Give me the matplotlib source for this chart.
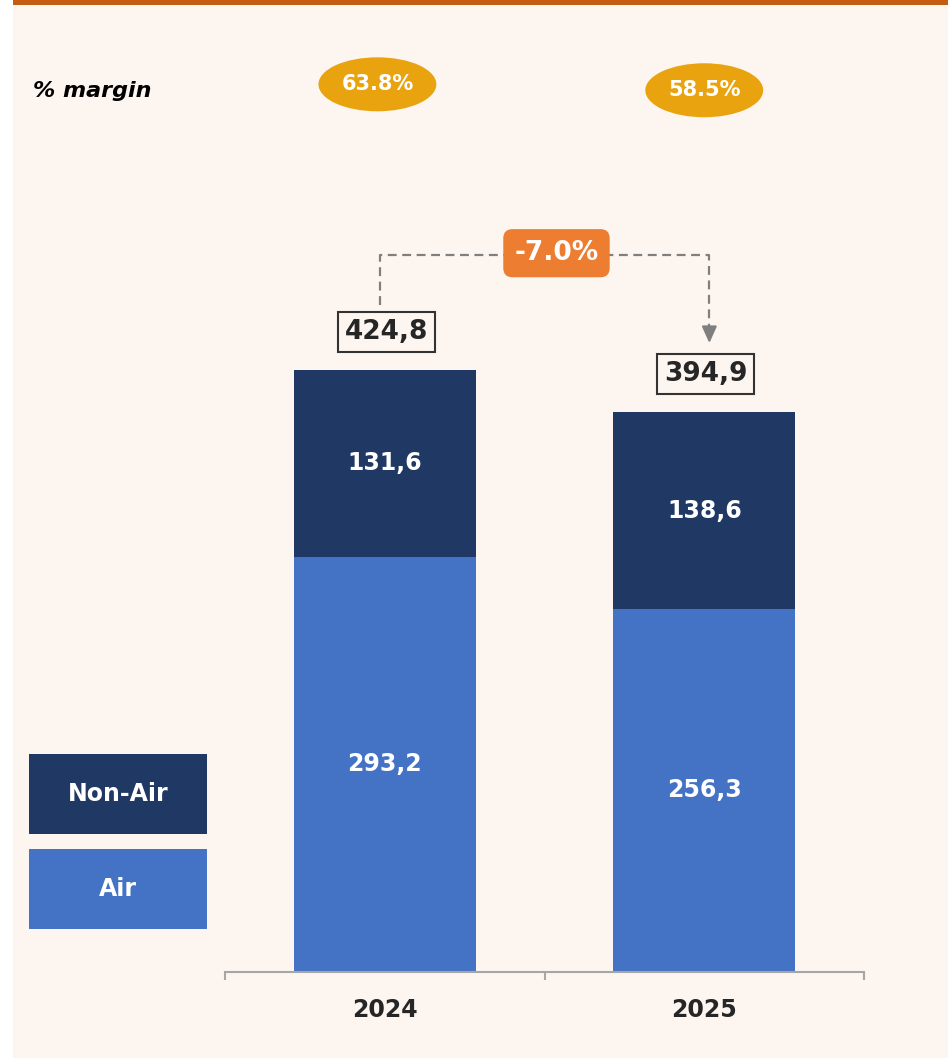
import matplotlib
matplotlib.use("Agg")
import matplotlib.pyplot as plt
from matplotlib.patches import Rectangle, Ellipse

# data
years = ["2024", "2025"]
air = [293.2, 256.3]
non_air = [131.6, 138.6]
totals = [424.8, 394.9]
margins = ["63.8%", "58.5%"]
change_label = "-7.0%"
legend_labels = ["Non-Air", "Air"]

# colours
bg = "#FDF5F0"
navy = "#203864"
blue = "#4472C4"
gold = "#E9A30F"
orange = "#ED7D31"
dark = "#262626"

W, H = 948, 1058
fig = plt.figure(figsize=(W / 100, H / 100), dpi=100)
fig.patch.set_facecolor("white")

# peach panel and orange top rule (behind the axes)
fig.patches.append(Rectangle((13 / W, 0), 1 - 13 / W, 1 - 5 / H, transform=fig.transFigure,
                             facecolor=bg, edgecolor="none", zorder=-2))
fig.patches.append(Rectangle((13 / W, 1 - 5 / H), 1 - 13 / W, 5 / H, transform=fig.transFigure,
                             facecolor="#C55A11", edgecolor="none", zorder=-2))

ax = fig.add_axes([225 / W, (H - 972) / H, (864 - 225) / W, 972 / H])
ax.set_facecolor("none")

x = range(len(years))
bar_w = 0.57
ax.bar(x, air, width=bar_w, color=blue, zorder=2)
ax.bar(x, non_air, bottom=air, width=bar_w, color=navy, zorder=2)

ax.set_xlim(-0.5, 1.5)
ax.set_ylim(0, 686)

for s in ["top", "right", "left"]:
    ax.spines[s].set_visible(False)
ax.spines["bottom"].set_color("#A6A6A6")
ax.spines["bottom"].set_linewidth(1.5)
ax.set_yticks([])
ax.set_xticks([-0.5, 0.5, 1.5])
ax.set_xticklabels([])
ax.tick_params(axis="x", which="major", length=6, width=1.5, color="#A6A6A6")
ax.set_xticks(list(x), minor=True)
ax.set_xticklabels(years, minor=True, fontsize=17, fontweight="bold", color=dark)
ax.tick_params(axis="x", which="minor", length=0, pad=19)

# values inside the segments
for i in x:
    ax.text(i, air[i] / 2, f"{air[i]:.1f}".replace(".", ","), ha="center", va="center",
            color="white", fontsize=17, fontweight="bold", zorder=3)
    ax.text(i, air[i] + non_air[i] / 2, f"{non_air[i]:.1f}".replace(".", ","), ha="center",
            va="center", color="white", fontsize=17, fontweight="bold", zorder=3)
    # boxed totals
    ax.annotate(f"{totals[i]:.1f}".replace(".", ","), xy=(i, totals[i]), xytext=(1, 27.5),
                textcoords="offset points", ha="center", va="center", fontsize=19,
                fontweight="bold", color=dark,
                bbox=dict(boxstyle="square,pad=0.26", facecolor=bg, edgecolor="#333333", lw=1.5))

# margin ellipses
ell_y = [626.5, 622.3]
ell_dx = [-0.023, 0.0]
for i in x:
    ax.add_patch(Ellipse((i + ell_dx[i], ell_y[i]), 0.369, 38.1, facecolor=gold,
                         edgecolor="none", clip_on=False, zorder=3))
    ax.text(i + ell_dx[i], ell_y[i], margins[i], ha="center", va="center", color="white",
            fontsize=15, fontweight="bold", zorder=4)

ax.text(-0.5 - 192 / 320, 622, "% margin", ha="left", va="center", fontsize=16,
        fontweight="bold", style="italic", color="black", clip_on=False)

# dashed connector with arrow
x0, x1 = -0.016, 1.016
y_top = max(totals) + 81
ax.plot([x0, x0, x1, x1], [totals[0] + 46, y_top, y_top, totals[1] + 60], ls=(0, (4, 2.5)),
        color="#7F7F7F", lw=1.6, zorder=2, clip_on=False)
ax.annotate("", xy=(x1, totals[1] + 47), xytext=(x1, totals[1] + 61),
            arrowprops=dict(arrowstyle="-|>,head_width=0.45,head_length=1.0",
                            color="#7F7F7F", lw=1.6))

ax.text(0.5375, y_top + 1.5, change_label, ha="center", va="center", fontsize=19,
        fontweight="bold", color="white", zorder=5,
        bbox=dict(boxstyle="round,pad=0.42,rounding_size=0.35", facecolor=orange,
                  edgecolor="none"))

# legend blocks
leg_boxes = [(754, 834, navy), (849, 929, blue)]
for lab, (y0, y1, c) in zip(legend_labels, leg_boxes):
    fig.patches.append(Rectangle((29 / W, 1 - y1 / H), (207 - 29) / W, (y1 - y0) / H,
                                 transform=fig.transFigure, facecolor=c, edgecolor="none",
                                 zorder=1))
    fig.text(118 / W, 1 - (y0 + y1) / 2 / H, lab, ha="center", va="center", color="white",
             fontsize=17, fontweight="bold", zorder=2)

fig.savefig("out.png", dpi=100, facecolor=fig.get_facecolor())
